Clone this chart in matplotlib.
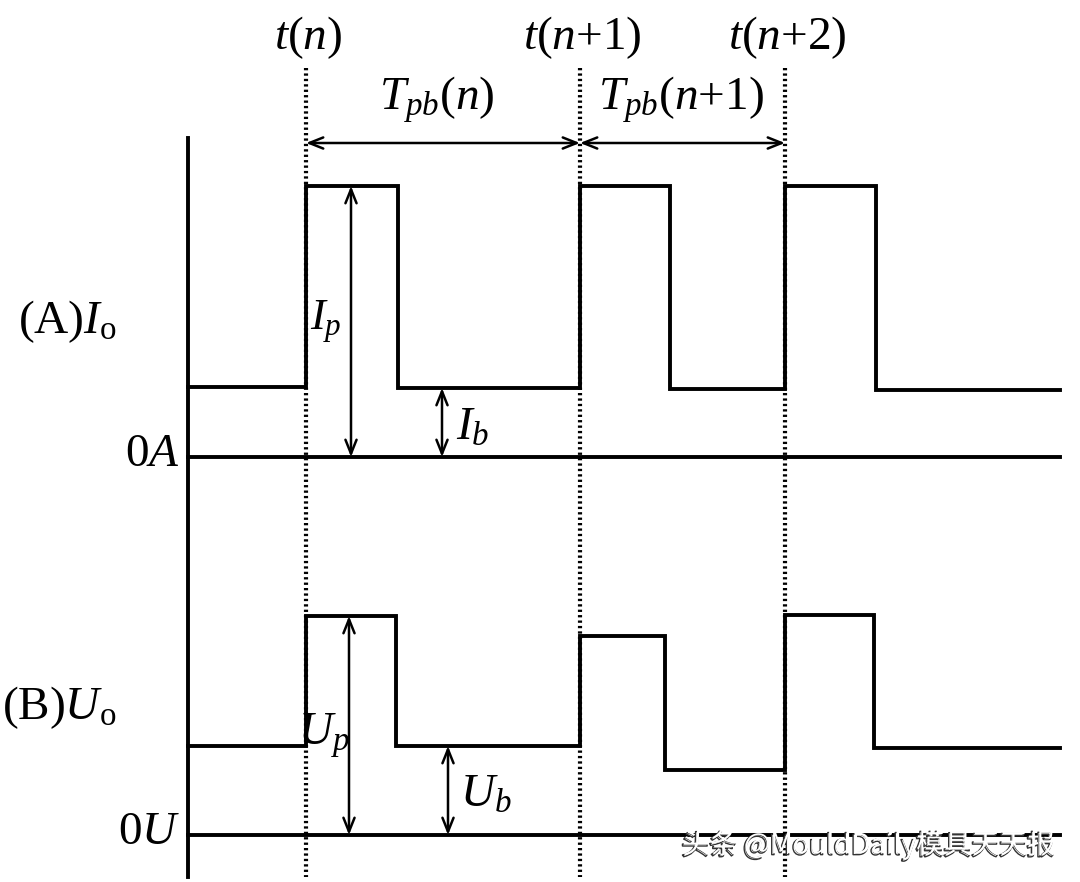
import matplotlib
matplotlib.use('Agg')
import matplotlib.pyplot as plt
import matplotlib.patheffects as pe

plt.rcParams['font.family'] = ['Liberation Serif', 'DejaVu Serif']
plt.rcParams['mathtext.fontset'] = 'custom'
plt.rcParams['mathtext.rm'] = 'Liberation Serif'
plt.rcParams['mathtext.it'] = 'Liberation Serif:italic'

# time marks (pixel-like units along the time axis)
t_marks = [306, 580, 785]
t_labels = [r'$t(n)$', r'$t(n{+}1)$', r'$t(n{+}2)$']
x_start, x_end = 188, 1060

# (A) output current: pulse fall times, peak and base levels above 0A
i_fall = [398, 670, 876]
i_peak = [271, 271, 271]
i_base = [70, 69, 68, 67]
zero_a = 457

# (B) output voltage
u_fall = [396, 665, 874]
u_peak = [219, 199, 220]
u_base = [89, 89, 65, 87]
zero_u = 835


def step_wave(rise, fall, peak, base):
    xs, ys = [x_start], [base[0]]
    for k in range(len(rise)):
        xs += [rise[k], rise[k], fall[k], fall[k]]
        ys += [base[k], peak[k], peak[k], base[k + 1]]
    xs.append(x_end)
    ys.append(base[-1])
    return xs, ys


fig = plt.figure(figsize=(10.8, 8.82), dpi=100)
ax = fig.add_axes([0, 0, 1, 1])
ax.set_xlim(0, 1080)
ax.set_ylim(882, 0)
ax.axis('off')

lw = 2.8
# vertical axis
ax.plot([x_start, x_start], [138, 877], color='black', lw=lw)
# zero lines
ax.plot([x_start, x_end], [zero_a, zero_a], color='black', lw=lw)
ax.plot([x_start, x_end], [zero_u, zero_u], color='black', lw=lw)

# dotted time markers
for t in t_marks:
    ax.plot([t, t], [68, 877], color='black', lw=3.0, linestyle=(0, (0.55, 0.75)))

# waveforms
xs, ys = step_wave(t_marks, i_fall, i_peak, i_base)
ax.plot(xs, [zero_a - v for v in ys], color='black', lw=lw, solid_joinstyle='miter')
xs, ys = step_wave(t_marks, u_fall, u_peak, u_base)
ax.plot(xs, [zero_u - v for v in ys], color='black', lw=lw, solid_joinstyle='miter')

arrow = dict(arrowstyle='<->,head_length=1.0,head_width=0.4', color='black', lw=1.8,
             shrinkA=0, shrinkB=0)


def varrow(x, y0, y1):
    ax.annotate('', xy=(x, y0), xytext=(x, y1), arrowprops=arrow)


varrow(351, zero_a - i_peak[0], zero_a)
varrow(442, zero_a - i_base[1], zero_a)
varrow(349, zero_u - u_peak[0], zero_u)
varrow(448, zero_u - u_base[1], zero_u)
ax.annotate('', xy=(t_marks[0], 143), xytext=(t_marks[1], 143), arrowprops=arrow)
ax.annotate('', xy=(t_marks[1], 143), xytext=(t_marks[2], 143), arrowprops=arrow)

big = 34
for t, lab in zip(t_marks, t_labels):
    ax.text(t + 2, 38, lab, fontsize=big, ha='center', va='center')
ax.text(437, 100, r'$T_{pb}(n)$', fontsize=big, ha='center', va='center')
ax.text(681, 100, r'$T_{pb}(n{+}1)$', fontsize=big, ha='center', va='center')

ax.text(18, 322, r'(A)$I_\mathrm{o}$', fontsize=big, ha='left', va='center')
ax.text(180, 455, r'$0A$', fontsize=big, ha='right', va='center')
ax.text(310, 322, r'$I_p$', fontsize=32, ha='left', va='center')
ax.text(456, 428, r'$I_b$', fontsize=big, ha='left', va='center')

ax.text(2, 708, r'(B)$U_\mathrm{o}$', fontsize=big, ha='left', va='center')
ax.text(298, 736, r'$U_p$', fontsize=big, ha='left', va='center')
ax.text(460, 795, r'$U_b$', fontsize=big, ha='left', va='center')
ax.text(180, 833, r'$0U$', fontsize=big, ha='right', va='center')

# watermark
ax.text(1055, 845, '头条 @MouldDaily模具天天报', fontsize=20, ha='right', va='center',
        color='white', family=['Noto Sans CJK SC', 'DejaVu Sans'],
        path_effects=[pe.Stroke(offset=(-1.0, -1.0), linewidth=1.0, foreground='#333333'),
                      pe.Normal()])

fig.savefig('out.png', dpi=100, facecolor='white')
